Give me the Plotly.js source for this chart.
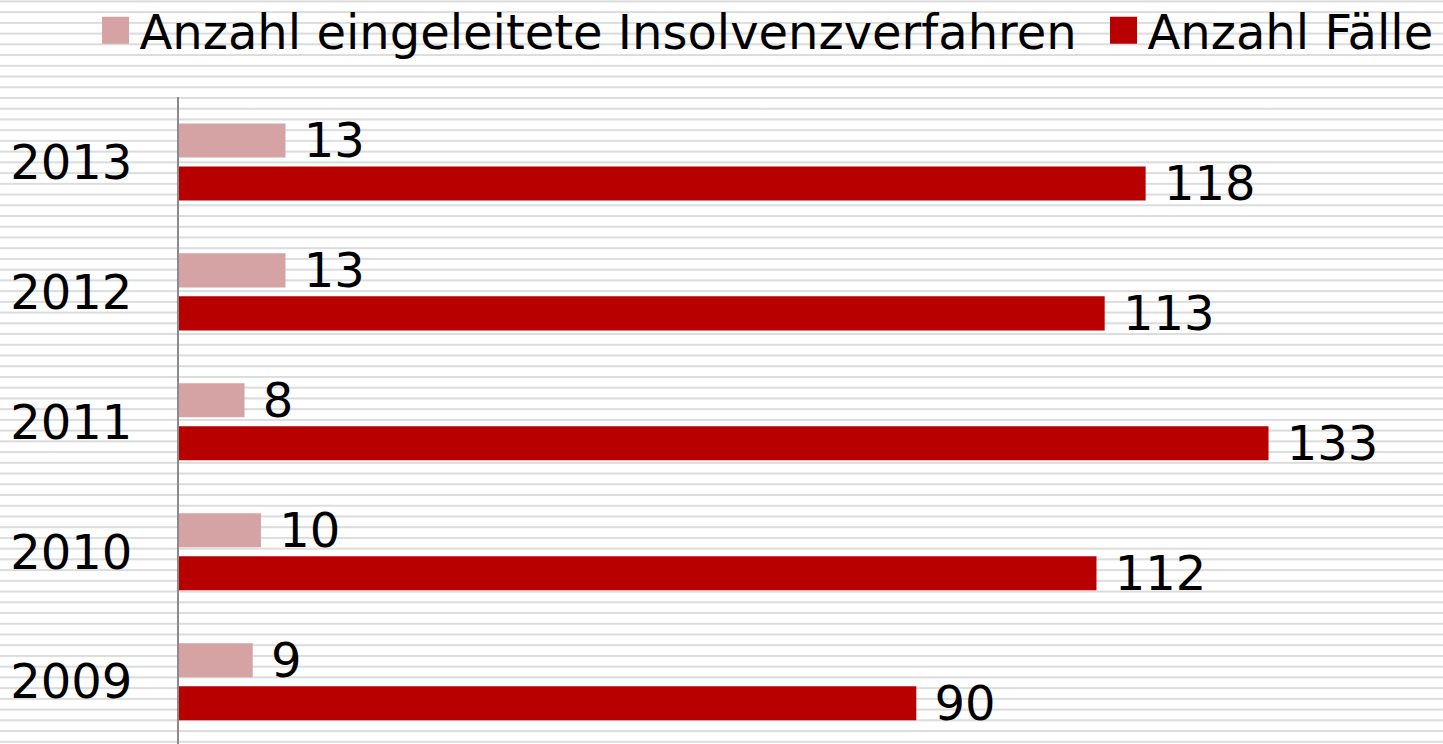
<!DOCTYPE html>
<html>
<head>
<meta charset="utf-8">
<script src="https://cdn.plot.ly/plotly-3.0.1.min.js"></script>
<style>
  html, body { margin: 0; padding: 0; width: 1443px; height: 744px; overflow: hidden; }
  body {
    background: repeating-linear-gradient(to bottom,
      #ffffff 0px, #ececec 0.4px, #dcdcdc 0.9px, #dcdcdc 1.9px, #ececec 2.4px, #ffffff 2.9px, #ffffff 10.73px);
  }
  #chart { width: 1443px; height: 744px; }
</style>
</head>
<body>
<div id="chart"></div>
<script>
// Data
const years = ['2009', '2010', '2011', '2012', '2013'];
const seriesNames = ['Anzahl eingeleitete Insolvenzverfahren', 'Anzahl Fälle'];
const insolvenzverfahren = [9, 10, 8, 13, 13];
const faelle = [90, 112, 133, 113, 118];

const FONT = 'DejaVu Sans, Verdana, sans-serif';
const colLight = '#d5a3a3';
const colDark = '#b80000';

const traces = [
  {
    type: 'bar', orientation: 'h', name: seriesNames[1],
    y: years, x: faelle,
    marker: { color: colDark },
    text: faelle.map(v => '\u00a0' + v), textposition: 'outside',
    textfont: { family: FONT, size: 48, color: '#000' },
    constraintext: 'none', cliponaxis: false,
    legend: 'legend2', hoverinfo: 'skip'
  },
  {
    type: 'bar', orientation: 'h', name: seriesNames[0],
    y: years, x: insolvenzverfahren,
    marker: { color: colLight },
    text: insolvenzverfahren.map(v => '\u00a0' + v), textposition: 'outside',
    textfont: { family: FONT, size: 48, color: '#000' },
    constraintext: 'none', cliponaxis: false,
    legend: 'legend', hoverinfo: 'skip'
  }
];

const legendBase = {
  xref: 'container', yref: 'container',
  xanchor: 'left', yanchor: 'middle',
  orientation: 'h',
  bgcolor: 'rgba(0,0,0,0)', borderwidth: 0,
  font: { family: FONT, size: 48, color: '#000' },
  itemclick: false, itemdoubleclick: false
};

const layout = {
  width: 1443, height: 744,
  margin: { l: 179, r: 0, t: 97, b: 0, pad: 0 },
  paper_bgcolor: 'rgba(0,0,0,0)',
  plot_bgcolor: 'rgba(0,0,0,0)',
  barmode: 'group',
  bargap: 0.338,
  bargroupgap: 0.209,
  showlegend: true,
  legend: Object.assign({}, legendBase, { x: 99.5 / 1443, y: 1 - 30.5 / 744 }),
  legend2: Object.assign({}, legendBase, { x: 1107.5 / 1443, y: 1 - 30.5 / 744 }),
  xaxis: {
    range: [0, 154.3], visible: false, showgrid: false, zeroline: false, fixedrange: true
  },
  yaxis: {
    type: 'category', range: [-0.48, 4.5],
    showline: true, linecolor: '#8a8a8a', linewidth: 2,
    showgrid: false, zeroline: false, ticks: '',
    ticklabelstandoff: 35,
    tickfont: { family: FONT, size: 48, color: '#000' },
    fixedrange: true
  },
  font: { family: FONT, color: '#000' }
};

Plotly.newPlot('chart', traces, layout, { displayModeBar: false, staticPlot: true }).then(() => {
  document.querySelectorAll('.legendpoints path').forEach(p => {
    p.setAttribute('d', 'M9.5,13.5H-17.5V-13.5H9.5Z');
  });
});
</script>
</body>
</html>
